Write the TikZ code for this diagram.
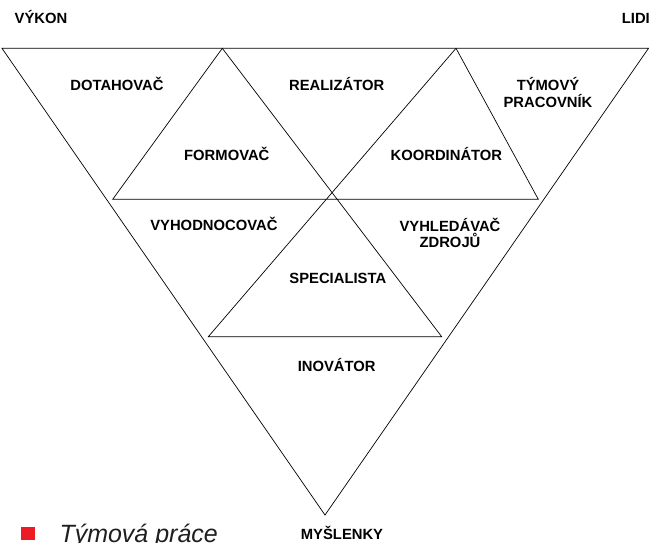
\documentclass[tikz,border=0pt]{standalone}
\usepackage{fontspec}
\setmainfont{Liberation Sans}
\definecolor{bulletred}{HTML}{ED1C24}
\begin{document}
\begin{tikzpicture}[x=1pt,y=-1pt,
  lbl/.style={font=\bfseries\fontsize{14.8}{16.6}\selectfont, inner sep=0pt, anchor=base, align=center},
  edge/.style={draw=black, line width=0.7pt, line join=miter}]
\useasboundingbox (0,0) rectangle (651,542);
\clip (0,0) rectangle (651,542);
% big triangle
\coordinate (TL) at (2,48.3);
\coordinate (TR) at (648.5,48.3);
\coordinate (B) at (325,515);
\draw[edge] (TL) -- (TR) -- (B) -- cycle;
% inner triangles
\coordinate (A1) at (222.3,48.3);
\coordinate (L1) at (112.7,199.3);
\coordinate (A2) at (456,48.3);
\coordinate (R2) at (538.3,199.3);
\coordinate (SL) at (208.3,336.7);
\coordinate (SR) at (441.7,336.7);
\draw[edge] (L1) -- (A1) -- (SR) -- (SL) -- (A2) -- (R2) -- cycle;
% labels
\node[lbl, anchor=base west] (vykon) at (14.5,23) {VÝKON};
\node[lbl, anchor=base east] (lidi) at (650,23) {LIDI};
\node[lbl] (dot) at (117,90.7) {DOTAHOVAČ};
\node[lbl] (real) at (336.7,90.7) {REALIZÁTOR};
\node[lbl] (tym) at (548,107.3) {TÝMOVÝ\\PRACOVNÍK};
\node[lbl] (form) at (226.8,160) {FORMOVAČ};
\node[lbl] (koor) at (446.4,160) {KOORDINÁTOR};
\node[lbl] (vyh) at (213.9,230) {VYHODNOCOVAČ};
\node[lbl] (vyhl) at (450,247.7) {VYHLEDÁVAČ\\ZDROJŮ};
\node[lbl] (spec) at (337.8,283) {SPECIALISTA};
\node[lbl] (inov) at (336.7,371) {INOVÁTOR};
\node[lbl, text depth=0pt] (mys) at (342,539.2) {MYŠLENKY};
% bullet
\fill[bulletred] (20.7,526.7) rectangle (34.7,540);
\node[font=\itshape\fontsize{25}{30}\selectfont, text=black!88, inner sep=0pt, anchor=base west] (tp) at (59.3,542.2) {Týmová práce};
\end{tikzpicture}
\end{document}
